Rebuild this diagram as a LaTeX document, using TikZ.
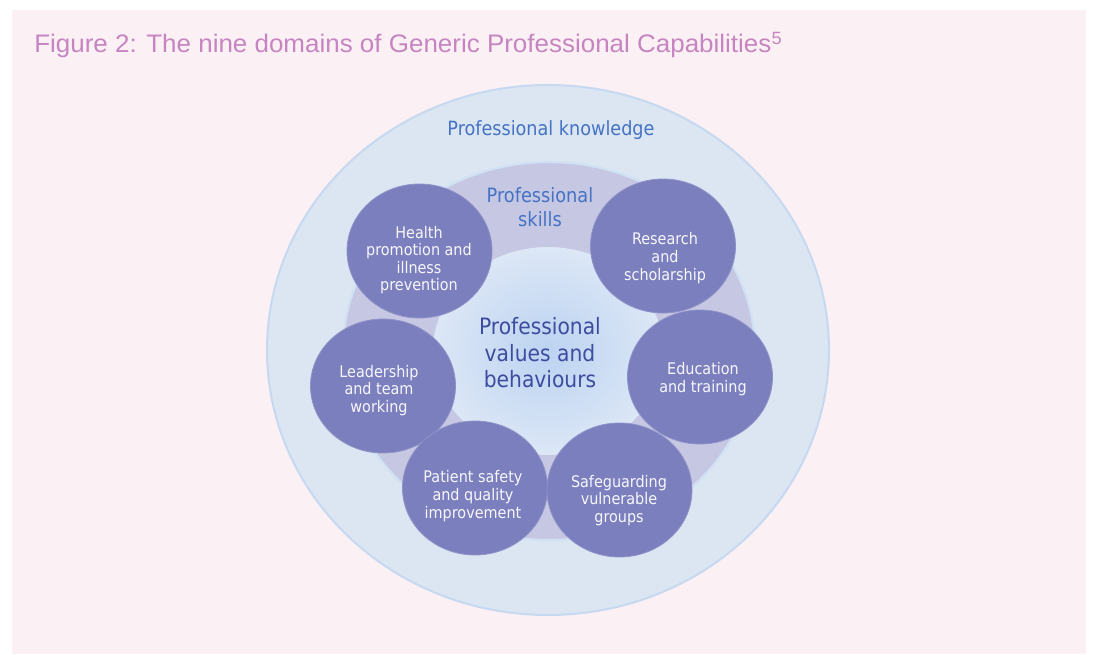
\documentclass[tikz,border=0pt]{standalone}
\usepackage{fontspec}
\usepackage{graphicx}
\usetikzlibrary{shapes.geometric}

\newfontfamily\smartfont{DejaVu Sans Condensed}
\newfontfamily\titlefont{Liberation Sans}

\definecolor{pagepink}{HTML}{FBF0F4}
\definecolor{titlepink}{HTML}{C685C1}
\definecolor{knowfill}{HTML}{DCE6F2}
\definecolor{knowedge}{HTML}{C6D9F1}
\definecolor{skillfill}{HTML}{C6C7E3}
\definecolor{valuesin}{HTML}{BCD3F1}
\definecolor{valuesout}{HTML}{DCE7F6}
\definecolor{capfill}{HTML}{7B7FBE}
\definecolor{labelblue}{HTML}{4472C4}
\definecolor{valuesblue}{HTML}{3D4CA0}

\begin{document}
\begin{tikzpicture}[x=0.75pt,y=-0.75pt,
    capability/.style={ellipse,fill=capfill,draw=capfill!85!white,line width=0.6pt,
      minimum width=108.75pt,minimum height=100.5pt,inner sep=0pt},
    capabilitytext/.style={text=white!94!capfill,align=center,inner sep=0pt,
      font=\smartfont\fontsize{12pt}{13.2pt}\selectfont}]
    \useasboundingbox (0,0) rectangle (1093,655);
    \fill[pagepink] (12,10) rectangle (1086,654);

    % title
    \node[anchor=base west,text=titlepink,inner sep=0pt] (Title) at (34,53)
      {\resizebox{561pt}{\height}{\titlefont\fontsize{19pt}{22pt}\selectfont
        Figure 2: The nine domains of Generic Professional Capabilities\textsuperscript{5}}};

    % the three nested rings
    \node[ellipse,fill=knowfill,draw=knowedge,line width=1.5pt,
      minimum width=421.5pt,minimum height=397.5pt] (Knowledge) at (548,350) {};
    \node[ellipse,fill=skillfill,draw=knowedge!80!white,line width=1.6pt,
      minimum width=309pt,minimum height=283.5pt] (Skills) at (549,351) {};
    \node[ellipse,shading=radial,inner color=valuesin,outer color=valuesout,
      minimum width=172.5pt,minimum height=156pt] (Values) at (548,351) {};

    \node[text=labelblue,font=\smartfont\fontsize{14.7pt}{17pt}\selectfont]
      (KnowledgeText) at (551,130) {Professional knowledge};
    \node[text=labelblue,align=center,font=\smartfont\fontsize{14.8pt}{18pt}\selectfont]
      (SkillsText) at (540,207) {Professional\\skills};
    \node[text=valuesblue,align=center,font=\smartfont\fontsize{16.9pt}{19.9pt}\selectfont]
      (ValuesText) at (540,353) {Professional\\values and\\behaviours};

    % six capability circles
    \node[capability] (Health) at (419.5,251) {};
    \node[capability] (Research) at (663,246) {};
    \node[capability] (Education) at (700,377) {};
    \node[capability] (Leadership) at (383,386) {};
    \node[capability] (Patient) at (475,488) {};
    \node[capability] (Safeguarding) at (619.5,490) {};

    \node[capabilitytext] (HealthText) at (419,260) {Health\\promotion and\\illness\\prevention};
    \node[capabilitytext] (ResearchText) at (665,258) {Research\\and\\scholarship};
    \node[capabilitytext] (EducationText) at (703,379) {Education\\and training};
    \node[capabilitytext] (LeadershipText) at (379,390.5) {Leadership\\and team\\working};
    \node[capabilitytext] (PatientText) at (473,496) {Patient safety\\and quality\\improvement};
    \node[capabilitytext] (SafeguardingText) at (619,500.5) {Safeguarding\\vulnerable\\groups};
\end{tikzpicture}
\end{document}
